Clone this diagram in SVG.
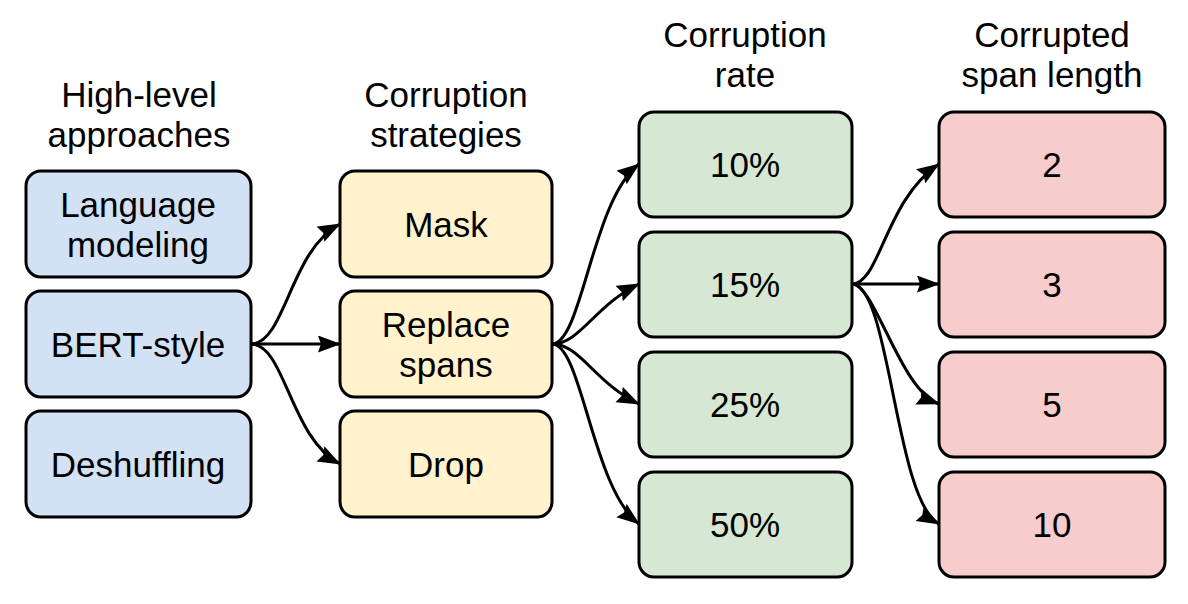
<svg xmlns="http://www.w3.org/2000/svg" width="1188" height="604" viewBox="0 0 1188 604">
<defs>
<style>
.box{stroke:#000;stroke-width:3}
.blue{fill:#D2E1F3}.yellow{fill:#FFF2CC}.green{fill:#D6E8D4}.red{fill:#F6CCCC}
text{font-family:"Liberation Sans",Arial,Helvetica,sans-serif;font-size:35px;fill:#000;text-anchor:middle}
.edge{fill:none;stroke:#000;stroke-width:3;marker-end:url(#arr)}
</style>
<marker id="arr" markerUnits="userSpaceOnUse" markerWidth="24" markerHeight="18" refX="22" refY="8.5" orient="auto">
<path d="M0,0 L23,8.5 L0,17 L3,8.5 z" fill="#000"/>
</marker>
</defs>
<rect width="1188" height="604" fill="#fff"/>
<g id="headers">
<text x="139" y="107">High-level</text><text x="139" y="147">approaches</text>
<text x="446" y="107">Corruption</text><text x="446" y="147">strategies</text>
<text x="745" y="47">Corruption</text><text x="745" y="87">rate</text>
<text x="1052" y="47">Corrupted</text><text x="1052" y="87">span length</text>
</g>
<g id="connectors">
<path class="edge" d="M251,344 C285,344 290,250 340,224"/>
<path class="edge" d="M251,344 L340,344"/>
<path class="edge" d="M251,344 C285,344 290,438 340,464"/>
<path class="edge" d="M552,344 C582,344 592,200 639,164"/>
<path class="edge" d="M552,344 C580,344 595,305 639,284"/>
<path class="edge" d="M552,344 C580,344 595,383 639,404"/>
<path class="edge" d="M552,344 C582,344 592,488 639,524"/>
<path class="edge" d="M852,284 C880,284 885,200 939,164"/>
<path class="edge" d="M852,284 L939,284"/>
<path class="edge" d="M852,284 C875,284 900,390 939,404"/>
<path class="edge" d="M852,284 C890,284 895,500 939,524"/>
</g>
<g id="lm"><rect class="box blue" x="26" y="171" width="225" height="106" rx="15"/><text x="138" y="217">Language</text><text x="138" y="257">modeling</text></g>
<g id="bert"><rect class="box blue" x="26" y="291" width="225" height="106" rx="15"/><text x="138" y="357">BERT-style</text></g>
<g id="deshuffle"><rect class="box blue" x="26" y="411" width="225" height="106" rx="15"/><text x="138" y="477">Deshuffling</text></g>
<g id="mask"><rect class="box yellow" x="340" y="171" width="212" height="106" rx="15"/><text x="446" y="237">Mask</text></g>
<g id="replace"><rect class="box yellow" x="340" y="291" width="212" height="106" rx="15"/><text x="446" y="337">Replace</text><text x="446" y="377">spans</text></g>
<g id="drop"><rect class="box yellow" x="340" y="411" width="212" height="106" rx="15"/><text x="446" y="477">Drop</text></g>
<g id="r10"><rect class="box green" x="639" y="112" width="213" height="105" rx="15"/><text x="745" y="177">10%</text></g>
<g id="r15"><rect class="box green" x="639" y="232" width="213" height="105" rx="15"/><text x="745" y="297">15%</text></g>
<g id="r25"><rect class="box green" x="639" y="352" width="213" height="105" rx="15"/><text x="745" y="417">25%</text></g>
<g id="r50"><rect class="box green" x="639" y="472" width="213" height="105" rx="15"/><text x="745" y="537">50%</text></g>
<g id="s2"><rect class="box red" x="939" y="112" width="226" height="105" rx="15"/><text x="1052" y="177">2</text></g>
<g id="s3"><rect class="box red" x="939" y="232" width="226" height="105" rx="15"/><text x="1052" y="297">3</text></g>
<g id="s5"><rect class="box red" x="939" y="352" width="226" height="105" rx="15"/><text x="1052" y="417">5</text></g>
<g id="s10"><rect class="box red" x="939" y="472" width="226" height="105" rx="15"/><text x="1052" y="537">10</text></g>
</svg>
